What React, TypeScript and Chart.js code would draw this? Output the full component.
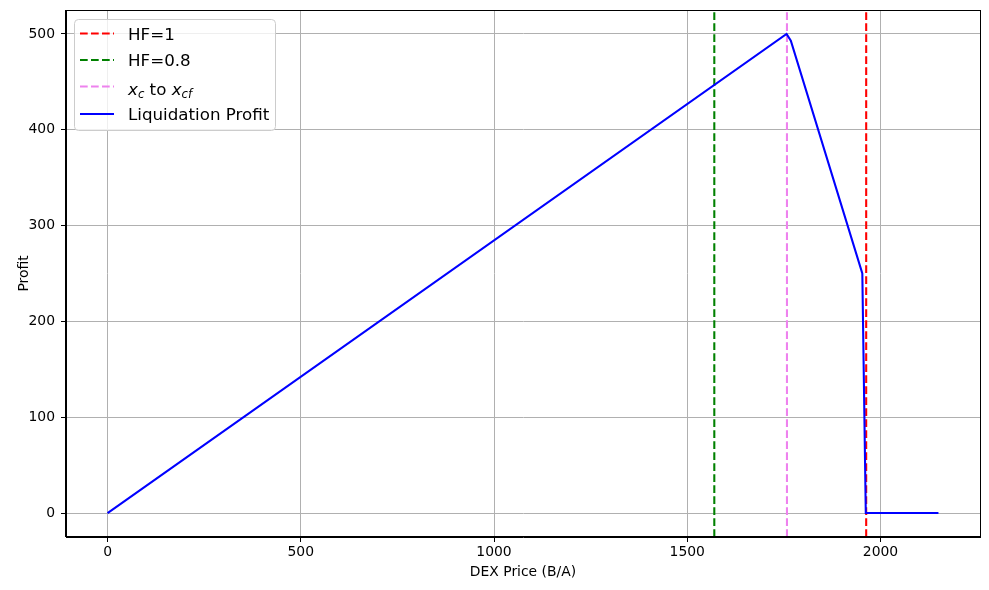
import React, { useEffect, useRef } from "react";
import { Chart, registerables } from "chart.js";

Chart.register(...registerables);

// Data
const profitX = [0, 1757, 1768, 1953, 1962, 2150];
const profitY = [0, 500, 493, 250, 0, 0];
const hf1X = 1963;
const hf08X = 1570;
const xcX = 1758;
const xTicks = [0, 500, 1000, 1500, 2000];
const yTicks = [0, 100, 200, 300, 400, 500];
const xMin = -107.5;
const xMax = 2257.5;
const yMin = -25;
const yMax = 525;

const FONT = "'DejaVu Sans', sans-serif";

const frameAndLegend = {
  id: "frameAndLegend",
  afterDraw(chart: any) {
    const ctx = chart.ctx as CanvasRenderingContext2D;
    const a = chart.chartArea;
    ctx.save();
    // spines
    ctx.strokeStyle = "#000";
    ctx.lineWidth = 1;
    ctx.strokeRect(Math.round(a.left) - 0.5, Math.round(a.top) + 0.5, Math.round(a.right - a.left) + 1, Math.round(a.bottom - a.top) - 1);

    // legend box
    const bx = 74.5, by = 19.5, bw = 201, bh = 111, r = 4;
    ctx.beginPath();
    ctx.moveTo(bx + r, by);
    ctx.lineTo(bx + bw - r, by);
    ctx.quadraticCurveTo(bx + bw, by, bx + bw, by + r);
    ctx.lineTo(bx + bw, by + bh - r);
    ctx.quadraticCurveTo(bx + bw, by + bh, bx + bw - r, by + bh);
    ctx.lineTo(bx + r, by + bh);
    ctx.quadraticCurveTo(bx, by + bh, bx, by + bh - r);
    ctx.lineTo(bx, by + r);
    ctx.quadraticCurveTo(bx, by, bx + r, by);
    ctx.closePath();
    ctx.fillStyle = "rgba(255,255,255,0.8)";
    ctx.fill();
    ctx.strokeStyle = "#cccccc";
    ctx.lineWidth = 1;
    ctx.stroke();

    const entries = [
      { color: "#ff0000", dash: [7.7, 3.3], y: 33.5 },
      { color: "#008000", dash: [7.7, 3.3], y: 60 },
      { color: "#ee82ee", dash: [7.7, 3.3], y: 86.5 },
      { color: "#0000ff", dash: [], y: 114 },
    ];
    for (const e of entries) {
      ctx.beginPath();
      ctx.setLineDash(e.dash);
      ctx.strokeStyle = e.color;
      ctx.lineWidth = 2.08;
      ctx.moveTo(80, e.y);
      ctx.lineTo(114, e.y);
      ctx.stroke();
    }
    ctx.setLineDash([]);
    ctx.fillStyle = "#000";
    ctx.textAlign = "left";
    ctx.textBaseline = "alphabetic";
    const fs = 16.7;
    ctx.font = `${fs}px ${FONT}`;
    ctx.fillText("HF=1", 128, 39.5);
    ctx.fillText("HF=0.8", 128, 66);
    ctx.fillText("Liquidation Profit", 128, 120);

    // math text: x_c to x_cf
    let x = 128;
    const base = 95;
    const sub = fs * 0.7;
    ctx.font = `italic ${fs}px ${FONT}`;
    ctx.fillText("x", x, base);
    x += ctx.measureText("x").width;
    ctx.font = `italic ${sub}px ${FONT}`;
    ctx.fillText("c", x, base + 3);
    x += ctx.measureText("c").width;
    ctx.font = `${fs}px ${FONT}`;
    ctx.fillText(" to ", x, base);
    x += ctx.measureText(" to ").width;
    ctx.font = `italic ${fs}px ${FONT}`;
    ctx.fillText("x", x, base);
    x += ctx.measureText("x").width;
    ctx.font = `italic ${sub}px ${FONT}`;
    ctx.fillText("cf", x, base + 3);
    ctx.restore();
  },
};

function vline(xv: number, color: string) {
  return {
    data: [
      { x: xv, y: yMin },
      { x: xv, y: yMax },
    ],
    borderColor: color,
    borderWidth: 2.08,
    borderDash: [7.7, 3.3],
    pointRadius: 0,
    showLine: true,
    fill: false,
    order: 1,
  };
}

export default function App() {
  const ref = useRef<HTMLCanvasElement>(null);
  useEffect(() => {
    if (!ref.current) return;
    const chart = new Chart(ref.current, {
      type: "scatter",
      data: {
        datasets: [
          {
            data: profitX.map((xv, i) => ({ x: xv, y: profitY[i] })),
            borderColor: "#0000ff",
            borderWidth: 2.08,
            pointRadius: 0,
            showLine: true,
            fill: false,
            order: 0,
          } as any,
          vline(hf1X, "#ff0000"),
          vline(hf08X, "#008000"),
          vline(xcX, "#ee82ee"),
        ],
      },
      options: {
        responsive: false,
        devicePixelRatio: 1,
        animation: false,
        layout: { padding: { left: 0, right: 9, top: 10, bottom: 0 } },
        plugins: { legend: { display: false }, tooltip: { enabled: false } },
        scales: {
          x: {
            type: "linear",
            min: xMin,
            max: xMax,
            afterBuildTicks: (s: any) => {
              s.ticks = xTicks.map((v) => ({ value: v }));
            },
            afterFit: (s: any) => {
              s.height = 53;
              s.paddingLeft = 0;
              s.paddingRight = 0;
            },
            ticks: {
              color: "#000",
              font: { family: FONT, size: 13.9 },
              padding: 2,
              maxRotation: 0,
              autoSkip: false,
              callback: (v: any) => String(v),
            },
            grid: { color: "#b0b0b0", lineWidth: 1, tickColor: "#000", tickLength: 5 },
            border: { display: true, color: "#000", width: 1 },
            title: {
              display: true,
              text: "DEX Price (B/A)",
              color: "#000",
              font: { family: FONT, size: 13.9 },
              padding: { top: 0, bottom: 9.7 },
            },
          },
          y: {
            type: "linear",
            min: yMin,
            max: yMax,
            afterBuildTicks: (s: any) => {
              s.ticks = yTicks.map((v) => ({ value: v }));
            },
            afterFit: (s: any) => {
              s.width = 66;
              s.paddingTop = 0;
              s.paddingBottom = 0;
            },
            ticks: {
              color: "#000",
              font: { family: FONT, size: 13.9 },
              padding: 6,
              autoSkip: false,
              callback: (v: any) => String(v),
            },
            grid: { color: "#b0b0b0", lineWidth: 1, tickColor: "#000", tickLength: 5 },
            border: { display: true, color: "#000", width: 1 },
            title: {
              display: true,
              text: "Profit",
              color: "#000",
              font: { family: FONT, size: 13.9 },
              padding: { top: 16, bottom: 0 },
            },
          },
        },
      },
      plugins: [frameAndLegend],
    });
    return () => chart.destroy();
  }, []);
  return (
    <div style={{ position: "absolute", left: 0, top: 0, width: 989, height: 590, background: "#fff" }}>
      <canvas ref={ref} width={989} height={590} style={{ width: 989, height: 590, display: "block" }} />
    </div>
  );
}
